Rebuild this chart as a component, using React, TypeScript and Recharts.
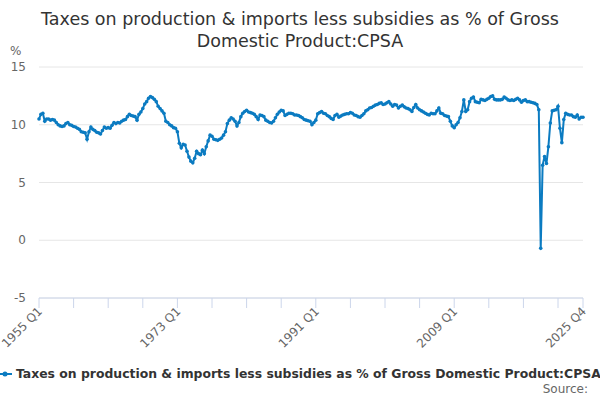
import { CartesianGrid, Line, LineChart, XAxis, YAxis } from "recharts";

const firstYear = 1955;
const quarterNames = ["Q1", "Q2", "Q3", "Q4"];

// quarterly values, % of GDP
const values1950s = [
  10.5, 10.9, 11.0, 10.3, 10.5, 10.5, 10.4, 10.45, 10.4, 10.2, 10.0, 9.9,
  9.85, 9.9, 10.1, 10.2, 10.0, 9.95, 9.85, 9.8,
];
const values1960s = [
  9.7, 9.6, 9.4, 9.35, 9.3, 8.75, 9.4, 9.8, 9.6, 9.5, 9.35, 9.3,
  9.2, 9.5, 9.8, 9.7, 9.75, 9.7, 9.95, 10.2, 10.1, 10.2, 10.15, 10.3,
  10.4, 10.45, 10.7, 10.9, 10.8, 10.75, 10.7, 10.4, 10.9, 11.1, 11.4, 11.8,
  12.0, 12.3, 12.45, 12.35,
];
const values1970s = [
  12.2, 12.0, 11.6, 11.4, 11.2, 11.0, 10.3, 10.2, 10.0, 9.9, 9.75, 9.7,
  9.4, 8.4, 8.0, 8.3, 8.25, 7.7, 7.2, 6.85, 6.7, 7.1, 7.7, 7.5,
  7.4, 7.8, 7.5, 8.1, 8.6, 9.1, 9.0, 8.75, 8.7, 8.65, 8.75, 8.85,
  9.1, 9.4, 10.1, 10.4,
];
const values1980s = [
  10.6, 10.5, 10.3, 9.9, 10.2, 10.7, 11.0, 11.15, 11.25, 11.1, 11.05, 11.0,
  10.9, 10.7, 10.45, 10.85, 10.8, 10.7, 10.4, 10.3, 10.2, 10.15, 10.3, 10.6,
  10.9, 11.1, 11.25, 11.2, 10.8, 10.9, 11.0, 11.0, 10.95, 10.85, 10.85, 10.8,
  10.7, 10.6, 10.45, 10.4,
];
const values1990s = [
  10.35, 10.3, 10.0, 10.2, 10.4, 10.95, 11.05, 11.15, 11.0, 10.95, 10.8, 10.7,
  10.55, 10.45, 10.8, 10.9, 10.65, 10.75, 10.85, 10.9, 10.95, 10.95, 11.05, 11.0,
  10.85, 10.8, 10.7, 10.65, 10.8, 10.95, 11.2, 11.3, 11.45, 11.5, 11.6, 11.7,
  11.75, 11.85, 11.9, 11.75,
];
const values2000s = [
  11.8, 11.9, 12.0, 11.8, 11.6, 11.75, 11.7, 11.45, 11.6, 11.7, 11.55, 11.45,
  11.4, 11.3, 11.15, 11.5, 11.75, 11.45, 11.3, 11.2, 11.1, 11.0, 10.9, 10.85,
  11.0, 10.95, 10.95, 11.2, 11.45, 11.0, 10.95, 10.8, 10.75, 10.7, 10.3, 9.9,
  9.75, 10.0, 10.2, 10.6,
];
const values2010s = [
  11.15, 12.15, 11.15, 11.3, 12.0, 12.3, 12.4, 12.0, 11.95, 11.9, 12.2, 12.15,
  12.1, 12.2, 12.3, 12.45, 12.5, 12.2, 12.15, 12.15, 12.15, 12.2, 12.4, 12.3,
  12.15, 12.1, 12.15, 12.1, 12.2, 12.3, 12.15, 11.95, 12.1, 12.15, 12.0, 12.0,
  11.95, 11.9, 11.85, 11.75,
];
const values2020s = [
  11.3, -0.7, 6.5, 7.25, 6.65, 8.1, 10.15, 11.2, 11.25, 11.3, 11.6, 9.7,
  8.45, 10.45, 11.0, 10.9, 10.85, 10.85, 10.7, 10.65, 10.85, 10.5, 10.65, 10.65,
];

const values = [
  ...values1950s,
  ...values1960s,
  ...values1970s,
  ...values1980s,
  ...values1990s,
  ...values2000s,
  ...values2010s,
  ...values2020s,
];

const labels = values.map(
  (_, i) => `${firstYear + Math.floor(i / 4)} ${quarterNames[i % 4]}`
);
const data = labels.map((label, i) => ({ label, value: values[i] }));

const shownLabels = ["1955 Q1", "1973 Q1", "1991 Q1", "2009 Q1", "2025 Q4"];
const tickMarks = labels
  .filter((_, i) => i % 18 === 0)
  .concat(labels[labels.length - 1]);
const yTicks = [-5, 0, 5, 10, 15];

const seriesName =
  "Taxes on production & imports less subsidies as % of Gross Domestic Product:CPSA";
const blue = "#0b7bc1";
const font = "'DejaVu Sans', sans-serif";

function XTick({ x, y, payload }: any) {
  if (!shownLabels.includes(payload.value)) return null;
  const tx = x + 4;
  const ty = y + 2;
  return (
    <text
      x={tx}
      y={ty}
      transform={`rotate(-45 ${tx} ${ty})`}
      textAnchor="end"
      fill="#666"
      fontSize={12}
      fontFamily={font}
    >
      {payload.value}
    </text>
  );
}

function YTick({ y, payload }: any) {
  return (
    <text
      x={26}
      y={y + 4}
      textAnchor="end"
      fill="#666"
      fontSize={12}
      fontFamily={font}
    >
      {payload.value}
    </text>
  );
}

export default function App() {
  return (
    <div
      style={{
        position: "absolute",
        left: 0,
        top: 0,
        width: 600,
        height: 400,
        background: "#fff",
        fontFamily: font,
        overflow: "hidden",
      }}
    >
      <div
        style={{
          position: "absolute",
          top: 8,
          width: 600,
          textAlign: "center",
          fontSize: 17.5,
          lineHeight: "22px",
          color: "#333",
        }}
      >
        Taxes on production &amp; imports less subsidies as % of Gross
        <br />
        Domestic Product:CPSA
      </div>
      <div
        style={{ position: "absolute", left: 10, top: 44, fontSize: 12, color: "#666" }}
      >
        %
      </div>
      <LineChart
        width={600}
        height={400}
        data={data}
        margin={{ top: 67, right: 17, left: 0, bottom: 42 }}
      >
        <CartesianGrid vertical={false} stroke="#e6e6e6" />
        <XAxis
          dataKey="label"
          scale="point"
          ticks={tickMarks}
          interval={0}
          height={60}
          stroke="#ccd6eb"
          tickSize={10}
          tick={<XTick />}
        />
        <YAxis
          domain={[-5, 15]}
          ticks={yTicks}
          width={39}
          axisLine={false}
          tickLine={false}
          tick={<YTick />}
        />
        <Line
          dataKey="value"
          stroke={blue}
          strokeWidth={2}
          dot={{ r: 1.8, fill: blue, stroke: blue, strokeWidth: 0 }}
          isAnimationActive={false}
        />
      </LineChart>
      <div
        style={{
          position: "absolute",
          left: 0,
          top: 366,
          whiteSpace: "nowrap",
          fontSize: 12.4,
          fontWeight: "bold",
          color: "#333",
          display: "flex",
          alignItems: "center",
        }}
      >
        <svg width={14} height={12} style={{ marginRight: 2 }}>
          <line x1={-2} y1={6} x2={12} y2={6} stroke={blue} strokeWidth={2} />
          <circle cx={5} cy={6} r={2.5} fill={blue} />
        </svg>
        {seriesName}
      </div>
      <div
        style={{
          position: "absolute",
          right: 12,
          top: 382,
          fontSize: 12,
          color: "#666",
        }}
      >
        Source:
      </div>
    </div>
  );
}
